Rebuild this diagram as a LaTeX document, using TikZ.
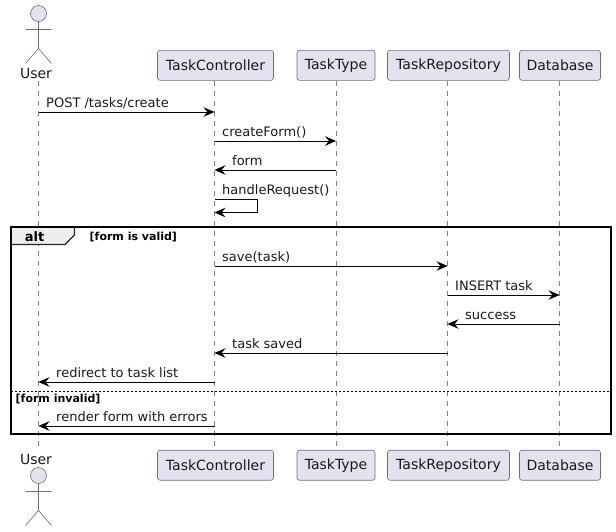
\documentclass[tikz,border=0pt]{standalone}
\usepackage{fontspec}
\setmainfont{DejaVu Sans}
\usetikzlibrary{arrows.meta}
\definecolor{partfill}{HTML}{E2E2F0}
\definecolor{partline}{HTML}{6E6E78}
\definecolor{lifeline}{HTML}{808088}
\definecolor{altfill}{HTML}{EEEEEE}
\tikzset{
  x=1pt,y=-1pt,
  part/.style={draw=partline,fill=partfill,rounded corners=2.5pt,line width=0.6pt,minimum height=30pt,inner sep=0pt,font=\fontsize{14}{16}\selectfont,anchor=center,text=black!90},
  actorlbl/.style={font=\fontsize{14}{16}\selectfont,inner sep=0pt,text=black!90},
  actorline/.style={draw=partline,line width=0.6pt},
  life/.style={draw=lifeline,line width=0.6pt,dash pattern=on 5pt off 5pt},
  msg/.style={draw=black,line width=0.7pt,-{Stealth[length=11pt,width=9.5pt,inset=4pt]}},
  msglbl/.style={font=\fontsize{13}{15}\selectfont,inner sep=0pt,anchor=base west,text=black!90},
  frameb/.style={draw=black,line width=2pt},
  guard/.style={font=\bfseries\fontsize{11}{13}\selectfont,inner sep=0pt,anchor=base west},
}
\newcommand{\actorfig}[2]{%
  \draw[actorline,fill=partfill] (#1,#2) circle[radius=8];
  \draw[actorline] (#1,#2+8) -- (#1,#2+35) (#1-13,#2+16) -- (#1+13,#2+16)
    (#1-13,#2+50) -- (#1,#2+35) -- (#1+13,#2+50);
}
\begin{document}
\begin{tikzpicture}
\useasboundingbox (0,0) rectangle (616,531);
\node[actorlbl] (userT) at (36,73) {User};
\node[actorlbl] (userB) at (36,459) {User};
\node[part,minimum width=116pt] (tcT) at (215.5,65.3) {TaskController};
\node[part,minimum width=116pt] (tcB) at (215.5,465.2) {TaskController};
\node[part,minimum width=78pt] (ttT) at (336,65.3) {TaskType};
\node[part,minimum width=78pt] (ttB) at (336,465.2) {TaskType};
\node[part,minimum width=122pt] (trT) at (448.5,65.3) {TaskRepository};
\node[part,minimum width=122pt] (trB) at (448.5,465.2) {TaskRepository};
\node[part,minimum width=81pt] (dbT) at (560,65.3) {Database};
\node[part,minimum width=81pt] (dbB) at (560,465.2) {Database};
% lifelines
\coordinate (u) at (38.5,81);
\coordinate (ub) at (38.5,449);
\coordinate (c) at (214.5,81);
\coordinate (cb) at (214.5,449);
\coordinate (t) at (336,81);
\coordinate (tb) at (336,449);
\coordinate (r) at (447.5,81);
\coordinate (rb) at (447.5,449);
\coordinate (d) at (559.5,81);
\coordinate (db) at (559.5,449);
\draw[life] (u) -- (ub);
\draw[life] (c) -- (cb);
\draw[life] (t) -- (tb);
\draw[life] (r) -- (rb);
\draw[life] (d) -- (db);
% actors
\actorfig{38.5}{13.5}
\actorfig{38.5}{475.5}
% messages
\draw[msg] (u |- 0,112) -- (c |- 0,112);
\node[msglbl] (m1) at (46,107.5) {POST /tasks/create};
\draw[msg] (c |- 0,141) -- (t |- 0,141);
\node[msglbl] (m2) at (222,136.5) {createForm()};
\draw[msg] (t |- 0,170) -- (c |- 0,170);
\node[msglbl] (m3) at (232,165.5) {form};
\draw[msg] (c |- 0,199.5) -- (257.5,199.5) -- (257.5,212.5) -- (c |- 0,212.5);
\node[msglbl] (m4) at (222,194.5) {handleRequest()};
\draw[msg] (c |- 0,266) -- (r |- 0,266);
\node[msglbl] (m5) at (222,261.5) {save(task)};
\draw[msg] (r |- 0,295) -- (d |- 0,295);
\node[msglbl] (m6) at (455,290.5) {INSERT task};
\draw[msg] (d |- 0,324) -- (r |- 0,324);
\node[msglbl] (m7) at (465,319.5) {success};
\draw[msg] (r |- 0,353) -- (c |- 0,353);
\node[msglbl] (m8) at (232,348.5) {task saved};
\draw[msg] (c |- 0,382) -- (u |- 0,382);
\node[msglbl] (m9) at (56,377.5) {redirect to task list};
\draw[msg] (c |- 0,426) -- (u |- 0,426);
\node[msglbl] (m10) at (56,421.5) {render form with errors};
% frame
\draw[draw=black!85,line width=1.1pt,fill=altfill] (11,227.2) -- (74.5,227.2) -- (74.5,235) -- (65,244.5) -- (11,244.5) -- cycle;
\draw[frameb] (11,227.2) rectangle (610.8,433.7);
\node[font=\bfseries\fontsize{13}{15}\selectfont,inner sep=0pt,anchor=base] (alt) at (34.5,241) {alt};
\node[guard] (g1) at (89.5,240) {[form is valid]};
\draw[draw=black,line width=0.7pt,dash pattern=on 2pt off 2pt] (11,391) -- (610.5,391);
\node[guard] (g2) at (15.5,402.5) {[form invalid]};
\end{tikzpicture}
\end{document}
